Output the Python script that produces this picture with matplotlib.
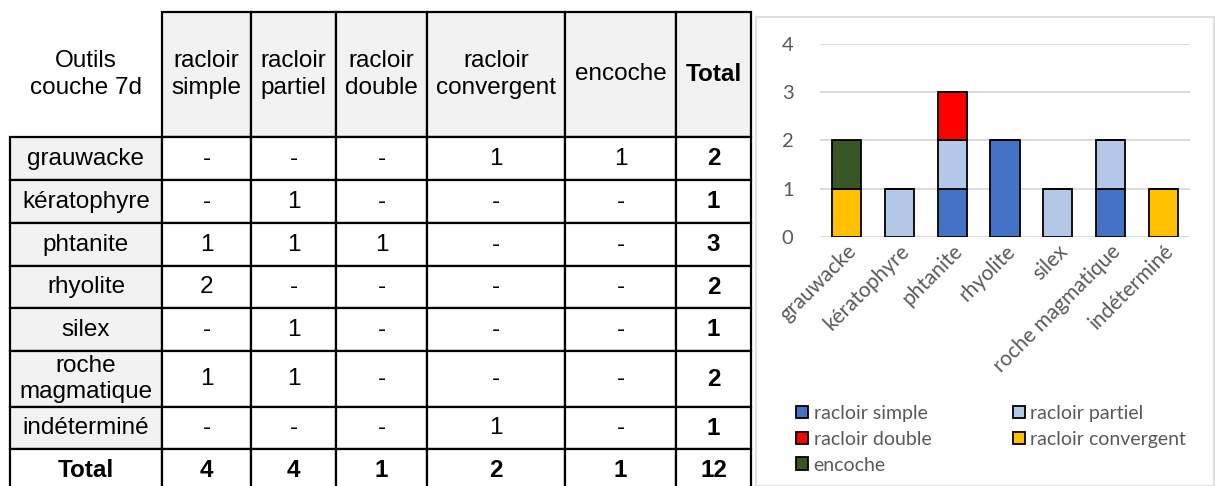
import numpy as np
import matplotlib
matplotlib.use("Agg")
import matplotlib.pyplot as plt
import matplotlib.patches as patches

# data
rocks = ["grauwacke", "kératophyre", "phtanite", "rhyolite", "silex",
         "roche magmatique", "indéterminé"]
rock_labels_table = ["grauwacke", "kératophyre", "phtanite", "rhyolite", "silex",
                     "roche\nmagmatique", "indéterminé"]
tools = ["racloir simple", "racloir partiel", "racloir double",
         "racloir convergent", "encoche"]
tool_headers = ["racloir\nsimple", "racloir\npartiel", "racloir\ndouble",
                "racloir\nconvergent", "encoche"]
racloir_simple = [0, 0, 1, 2, 0, 1, 0]
racloir_partiel = [0, 1, 1, 0, 1, 1, 0]
racloir_double = [0, 0, 1, 0, 0, 0, 0]
racloir_convergent = [1, 0, 0, 0, 0, 0, 1]
encoche = [1, 0, 0, 0, 0, 0, 0]
tool_colors = ["#4472C4", "#B4C7E7", "#FF0000", "#FFC000", "#375623"]

counts = np.array([racloir_simple, racloir_partiel, racloir_double,
                   racloir_convergent, encoche])  # tools x rocks

W, H = 1215, 486
fig = plt.figure(figsize=(W / 100, H / 100), dpi=100)

# ---- table (drawn in pixel coordinates) ----
tab = fig.add_axes([0, 0, 1, 1])
tab.set_xlim(0, W)
tab.set_ylim(H, 0)
tab.axis("off")

col_x = [10, 162, 251, 336, 427, 565, 676, 751]
row_y = [12, 137, 180, 223, 266, 308, 351, 407, 449, 492]
grey = "#F2F2F2"
lw = 1.6
tfont = dict(family=["Liberation Sans", "DejaVu Sans"], fontsize=17.5, color="black",
             ha="center", va="center", linespacing=1.25)

def cell(c, r, fill="white", border=True):
    x0, x1 = col_x[c], col_x[c + 1]
    y0, y1 = row_y[r], row_y[r + 1]
    rect = patches.Rectangle((x0, y0), x1 - x0, y1 - y0, facecolor=fill,
                             edgecolor="black" if border else "none", linewidth=lw,
                             zorder=1)
    tab.add_patch(rect)
    return (x0 + x1) / 2, (y0 + y1) / 2

# header
cx, cy = cell(0, 0, border=False)
tab.text(cx, cy, "Outils\ncouche 7d", **tfont)
for j, h in enumerate(tool_headers):
    cx, cy = cell(j + 1, 0, fill=grey)
    tab.text(cx, cy, h, **tfont)
cx, cy = cell(6, 0, fill=grey)
tab.text(cx, cy, "Total", fontweight="bold", **tfont)

# body
for i, lab in enumerate(rock_labels_table):
    cx, cy = cell(0, i + 1, fill=grey)
    tab.text(cx, cy, lab, **tfont)
    for j in range(len(tools)):
        v = counts[j, i]
        cx, cy = cell(j + 1, i + 1)
        tab.text(cx, cy, str(v) if v else "-", **tfont)
    cx, cy = cell(6, i + 1)
    tab.text(cx, cy, str(counts[:, i].sum()), fontweight="bold", **tfont)

# total row
r = len(rocks) + 1
cx, cy = cell(0, r)
tab.text(cx, cy, "Total", fontweight="bold", **tfont)
for j in range(len(tools)):
    cx, cy = cell(j + 1, r)
    tab.text(cx, cy, str(counts[j].sum()), fontweight="bold", **tfont)
cx, cy = cell(6, r)
tab.text(cx, cy, str(counts.sum()), fontweight="bold", **tfont)

# chart border
tab.add_patch(patches.Rectangle((755.5, 17.5), 458, 468, facecolor="none",
                                edgecolor="#D9D9D9", linewidth=1.2, zorder=0))

# ---- stacked bar chart ----
cfont = ["Lato", "DejaVu Sans"]
txt_col = "#595959"
ax = fig.add_axes([820 / W, 1 - 237 / H, 370 / W, (237 - 44) / H])
x = np.arange(len(rocks))
bottom = np.zeros(len(rocks))
bars = []
for j, name in enumerate(tools):
    b = ax.bar(x, counts[j], 0.55, bottom=bottom, color=tool_colors[j],
               edgecolor="black", linewidth=1.3, label=name, zorder=3)
    bars.append(b)
    bottom += counts[j]

ax.set_xlim(-0.5, len(rocks) - 0.5)
ax.set_ylim(0, 4)
ax.set_yticks(range(5))
ax.grid(axis="y", color="#D9D9D9", linewidth=1.3, zorder=0)
ax.set_axisbelow(True)
for s in ax.spines.values():
    s.set_visible(False)
ax.tick_params(length=0)
ax.tick_params(axis="y", pad=19)
ax.tick_params(axis="x", pad=3)
ax.set_xticks(x)
ax.set_xticklabels(rocks, rotation=45, ha="right", rotation_mode="anchor")
for t in ax.get_xticklabels():
    t.set_fontfamily(cfont)
    t.set_fontsize(15)
    t.set_color(txt_col)
for t in ax.get_yticklabels():
    t.set_fontfamily(cfont)
    t.set_fontsize(14.5)
    t.set_color(txt_col)

order = [0, 2, 4, 1, 3]
leg = fig.legend([bars[k] for k in order], [tools[k] for k in order],
                 loc="upper left", bbox_to_anchor=(796 / W, 1 - 405 / H),
                 ncol=2, frameon=False, handlelength=0.6, handleheight=0.6,
                 handletextpad=0.3, columnspacing=4.2, labelspacing=0.45,
                 borderpad=0, borderaxespad=0,
                 prop={"family": cfont, "size": 14})
for t in leg.get_texts():
    t.set_color(txt_col)

fig.savefig("out.png", dpi=100)
